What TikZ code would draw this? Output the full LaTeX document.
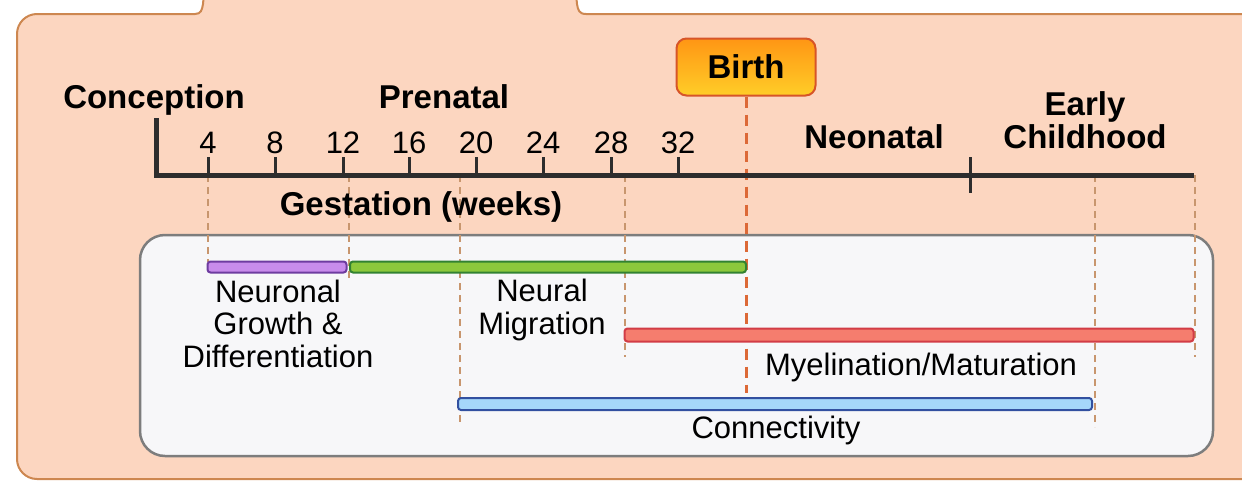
\documentclass[tikz,border=0pt]{standalone}
\usepackage{fontspec}
\setmainfont{Liberation Sans}
\definecolor{panelfill}{RGB}{252,214,192}
\definecolor{paneledge}{RGB}{205,135,80}
\definecolor{boxfill}{RGB}{247,247,249}
\definecolor{boxedge}{RGB}{125,125,125}
\definecolor{axiscol}{RGB}{45,45,45}
\definecolor{guidecol}{RGB}{200,150,110}
\definecolor{birthcol}{RGB}{220,105,55}
\definecolor{pfill}{RGB}{200,140,235}
\definecolor{pedge}{RGB}{110,60,160}
\definecolor{gfill}{RGB}{140,200,60}
\definecolor{gedge}{RGB}{50,130,50}
\definecolor{rfill}{RGB}{245,125,110}
\definecolor{redge}{RGB}{210,60,70}
\definecolor{bfill}{RGB}{165,215,250}
\definecolor{bedge}{RGB}{50,80,160}
\definecolor{borange}{RGB}{255,150,20}
\definecolor{byellow}{RGB}{255,205,40}
\definecolor{bedgecol}{RGB}{215,85,40}
\tikzset{
  panelstyle/.style={fill=panelfill, draw=paneledge, line width=2pt},
  boxstyle/.style={fill=boxfill, draw=boxedge, line width=2.5pt, rounded corners=25pt},
  axisline/.style={draw=axiscol, line width=5pt},
  tickline/.style={draw=axiscol, line width=3pt},
  guide/.style={draw=guidecol, line width=1.3pt, dash pattern=on 7pt off 5pt},
  birthguide/.style={draw=birthcol, line width=3pt, dash pattern=on 11pt off 7pt},
  bar/.style={line width=2pt, rounded corners=3pt, inner sep=0pt},
  reg/.style={font=\fontsize{31}{32.5}\selectfont, inner sep=0pt, anchor=base, align=center},
  bld/.style={font=\fontsize{33}{33}\selectfont\bfseries, inner sep=0pt, anchor=base, align=center},
  num/.style={font=\fontsize{31}{31}\selectfont, inner sep=0pt, anchor=base},
  birthbox/.style={draw=bedgecol, line width=2pt, rounded corners=10pt, top color=borange, bottom color=byellow, minimum width=139pt, minimum height=57pt, font=\fontsize{33}{33}\selectfont\bfseries}
}
\begin{document}
\begin{tikzpicture}[x=1pt,y=-1pt]
\useasboundingbox (0,0) rectangle (1242,482);
\clip (0,0) rectangle (1242,482);
% outer panel
\draw[panelstyle] (17,459) -- (17,34) arc[start angle=180,end angle=270,radius=20]
  -- (195,14) .. controls (201,14) and (202,10) .. (203,4) -- (204,-6) -- (576,-6)
  -- (577,4) .. controls (578,10) and (579,14) .. (586,14) -- (1260,14) -- (1260,479)
  -- (37,479) arc[start angle=90,end angle=180,radius=20] -- cycle;
% inner box
\draw[boxstyle] (140,235) rectangle (1213,456);
% axis coordinates
\coordinate (a0) at (156,118);
\coordinate (a1) at (156,175);
\coordinate (aend) at (1194,175);
\foreach \w/\x in {4/208,8/275,12/343,16/409,20/476,24/543,28/611,32/678}{
  \coordinate (t\w) at (\x,175);
  \coordinate (tt\w) at (\x,157);
}
\coordinate (septop) at (970,157);
\coordinate (sepbot) at (970,193);
% guides
\coordinate (g1a) at (208,175); \coordinate (g1b) at (208,262);
\coordinate (g2a) at (349,175); \coordinate (g2b) at (349,282);
\coordinate (g3a) at (460,175); \coordinate (g3b) at (460,423);
\coordinate (g4a) at (625,175); \coordinate (g4b) at (625,357);
\coordinate (g5a) at (1095,175); \coordinate (g5b) at (1095,427);
\coordinate (g6a) at (1195,175); \coordinate (g6b) at (1195,357);
\foreach \g in {1,...,6}{ \draw[guide] (g\g a) -- (g\g b); }
% birth
\node[birthbox] (birth) at (746,67) {Birth};
\coordinate (birthend) at (746,393);
\draw[birthguide] (birth.south) -- (birthend);
% axis
\draw[axisline] (a0) -- (a1) -- (aend);
\foreach \w in {4,8,12,16,20,24,28,32}{ \draw[tickline] (t\w) -- (tt\w); }
\draw[tickline] (septop) -- (sepbot);
% numbers
\foreach \w/\x in {4/208,8/275,12/343,16/409,20/476,24/543,28/611,32/678}{
  \node[num] (n\w) at (\x,153) {\w};
}
% headings
\node[bld] (conc) at (154,108) {Conception};
\node[bld] (pren) at (444,108) {Prenatal};
\node[bld] (neon) at (874,148) {Neonatal};
\node[bld] (early) at (1085,148) {Early\\[0pt]Childhood};
\node[bld] (gest) at (421,215) {Gestation (weeks)};
% bars
\node[bar, fill=pfill, draw=pedge, minimum width=139pt, minimum height=11pt] (pbar) at (277,267) {};
\node[bar, fill=gfill, draw=gedge, minimum width=396pt, minimum height=11pt] (gbar) at (548,267) {};
\node[bar, fill=rfill, draw=redge, minimum width=569pt, minimum height=13pt] (rbar) at (909,335) {};
\node[bar, fill=bfill, draw=bedge, minimum width=634pt, minimum height=12pt] (bbar) at (775,404) {};
% labels
\node[reg] (lneur) at (278,367) {Neuronal\\Growth \&\\Differentiation};
\node[reg] (lmig) at (542,334) {Neural\\Migration};
\node[reg] (lmye) at (921,375) {Myelination/Maturation};
\node[reg] (lcon) at (776,438) {Connectivity};
\end{tikzpicture}
\end{document}
